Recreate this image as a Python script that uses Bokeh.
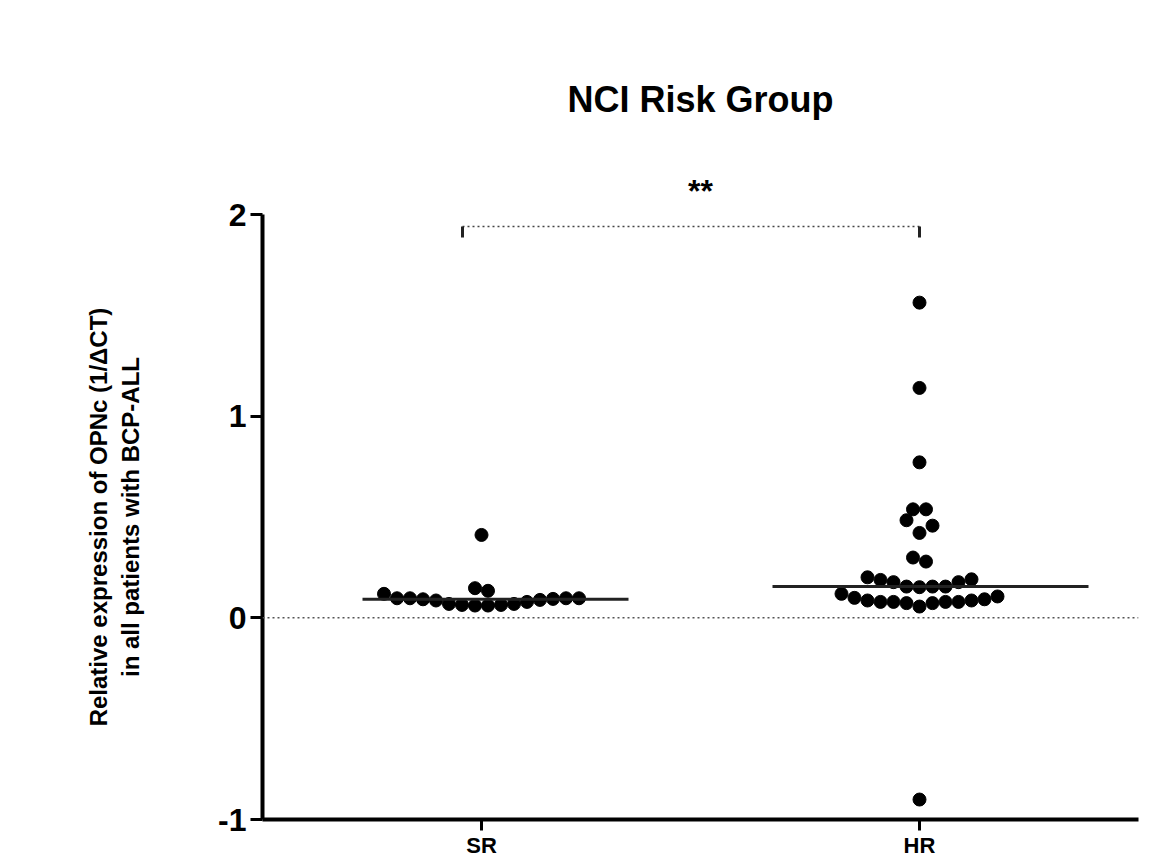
import numpy as np
from bokeh.plotting import figure
from bokeh.models import Range1d, FixedTicker, Span, ColumnDataSource, Title
from bokeh.embed import file_html
from bokeh.resources import INLINE

# ---------------- data ----------------
categories = ["SR", "HR"]
sr_values = [0.097, 0.097, 0.094, 0.089, 0.079, 0.064, 0.064, 0.061, 0.061,
             0.069, 0.069, 0.086, 0.092, 0.097, 0.097, 0.119, 0.147, 0.134, 0.411]
hr_values = [1.563, 1.140, 0.771, 0.538, 0.538, 0.484, 0.457, 0.421, 0.299, 0.279,
             0.201, 0.188, 0.177, 0.155, 0.152, 0.155, 0.155, 0.177, 0.191,
             0.106, 0.092, 0.086, 0.079, 0.079, 0.073, 0.056, 0.073, 0.079, 0.079,
             0.086, 0.099, 0.119, -0.901]
y_ticks = [-1, 0, 1, 2]
y_tick_labels = ["-1", "0", "1", "2"]
title_text = "NCI Risk Group"
y_label = "Relative expression of OPNc (1/\u0394CT)\nin all patients with BCP-ALL"
signif_text = "**"
signif_y = 1.94

# ---------------- layout ----------------
FIG_W, FIG_H = 1150, 860
FRAME_L, BORDER_R, BORDER_B, BORDER_T = 262, 12, 41, 214
FRAME_W = FIG_W - FRAME_L - BORDER_R
FRAME_H = FIG_H - BORDER_B - BORDER_T
Y_MIN, Y_MAX = -1.0, 2.0
PX_PER_UNIT = FRAME_H / (Y_MAX - Y_MIN)
X_MIN, X_MAX = 0.0, 2.0
px2x = (X_MAX - X_MIN) / FRAME_W
DOT = 13
FONT = "Liberation Sans"

positions = {c: i + 0.5 for i, c in enumerate(categories)}


def swarm(vals, center, row_thresh=0.07):
    vals = np.asarray(vals, dtype=float)
    order = np.argsort(vals, kind="stable")
    rows, cur = [], []
    for idx in order:
        if cur and vals[idx] - vals[cur[0]] > row_thresh:
            rows.append(cur)
            cur = []
        cur.append(idx)
    if cur:
        rows.append(cur)
    xs = np.zeros(len(vals))
    for row in rows:
        n = len(row)
        if n % 2:
            slots = [0] + [s for k in range(1, n) for s in (k, -k)]
        else:
            slots = [s for k in range(n) for s in (k + 0.5, -(k + 0.5))]
        for idx, s in zip(row, slots[:n]):
            xs[idx] = center + s * DOT * px2x
    return xs


p = figure(width=FIG_W, height=FIG_H, output_backend="svg", toolbar_location=None,
           x_range=Range1d(X_MIN, X_MAX), y_range=Range1d(Y_MIN, Y_MAX),
           min_border_left=FRAME_L, min_border_right=BORDER_R,
           min_border_bottom=BORDER_B, min_border_top=BORDER_T,
           outline_line_color=None)
p.grid.visible = False

# significance stars (closest to frame) and main title
p.add_layout(Title(text=signif_text, align="center", text_font=FONT,
                   text_font_size="32px", text_font_style="bold",
                   text_color="black", standoff=11), "above")
p.add_layout(Title(text=title_text, align="center", vertical_align="top",
                   text_font=FONT, text_font_size="36px", text_font_style="bold",
                   text_color="black", standoff=88), "above")

# zero dotted line
p.add_layout(Span(location=0, dimension="width", line_color="#555555",
                  line_width=1.5, line_dash="2 3"))

# points and medians
med_ext = {"SR": (-119, 147), "HR": (-147, 169)}
for cat, vals in zip(categories, [sr_values, hr_values]):
    c = positions[cat]
    xs = swarm(vals, c)
    src = ColumnDataSource(dict(x=xs, y=vals))
    p.scatter("x", "y", source=src, size=DOT, fill_color="black", line_color="black")
    med = float(np.median(vals))
    l, r = med_ext[cat]
    p.segment(x0=[c + l * px2x], y0=[med], x1=[c + r * px2x], y1=[med],
              line_color="#222222", line_width=3)

# significance bracket
bx0 = positions["SR"] - 19 * px2x
bx1 = positions["HR"]
tick_drop = 11 / PX_PER_UNIT
p.segment(x0=[bx0], y0=[signif_y], x1=[bx1], y1=[signif_y],
          line_color="#444444", line_width=1.5, line_dash="2 3")
p.segment(x0=[bx0, bx1], y0=[signif_y, signif_y], x1=[bx0, bx1],
          y1=[signif_y - tick_drop, signif_y - tick_drop],
          line_color="#222222", line_width=3)

# axes
xa = p.xaxis[0]
xa.ticker = FixedTicker(ticks=[positions[c] for c in categories])
xa.major_label_overrides = {positions[c]: c for c in categories}
xa.axis_line_width = 4
xa.axis_line_color = "black"
xa.major_tick_line_width = 3
xa.major_tick_out = 11
xa.major_tick_in = 0
xa.minor_tick_line_color = None
xa.major_label_text_font = FONT
xa.major_label_text_font_size = "22px"
xa.major_label_text_font_style = "bold"
xa.major_label_text_color = "black"
xa.major_label_standoff = 2

ya = p.yaxis[0]
ya.ticker = FixedTicker(ticks=y_ticks)
ya.major_label_overrides = dict(zip(y_ticks, y_tick_labels))
ya.axis_line_width = 4
ya.axis_line_color = "black"
ya.major_tick_line_width = 3
ya.major_tick_out = 12
ya.major_tick_in = 0
ya.minor_tick_line_color = None
ya.major_label_text_font = FONT
ya.major_label_text_font_size = "32px"
ya.major_label_text_font_style = "bold"
ya.major_label_text_color = "black"
ya.major_label_standoff = 4
ya.axis_label = y_label
ya.axis_label_text_font = FONT
ya.axis_label_text_font_size = "24px"
ya.axis_label_text_font_style = "bold"
ya.axis_label_text_color = "black"
ya.axis_label_standoff = 71

open("out.html", "w").write(file_html(p, INLINE))
